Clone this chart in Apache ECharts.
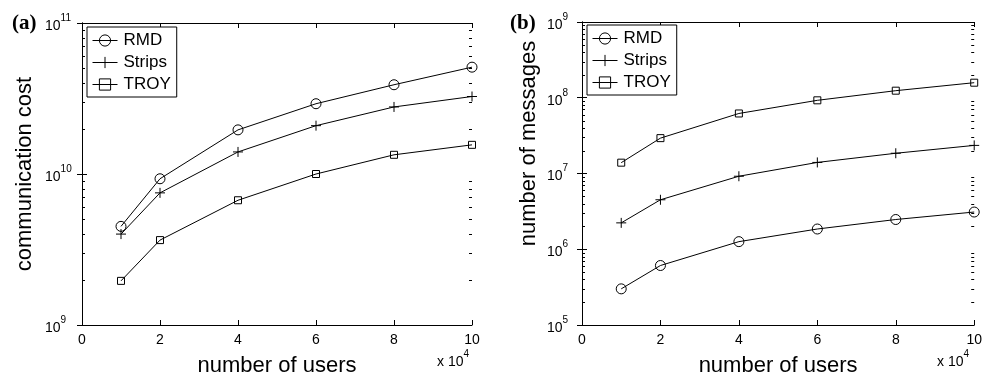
<!DOCTYPE html>
<html><head><meta charset="utf-8">
<script src="https://cdn.jsdelivr.net/npm/echarts@6/dist/echarts.min.js"></script>
<style>html,body{margin:0;padding:0;background:#fff}#c{width:985px;height:382px}</style>
</head><body><div id="c"></div>
<script>
// number of users (x 10^4)
const users = [1, 2, 4, 6, 8, 10];
// (a) communication cost
const costRMD    = [4.5e9, 9.3e9, 1.96e10, 2.92e10, 3.9e10, 5.1e10];
const costStrips = [4.0e9, 7.5e9, 1.40e10, 2.09e10, 2.78e10, 3.26e10];
const costTROY   = [1.96e9, 3.65e9, 6.7e9, 1.0e10, 1.34e10, 1.56e10];
// (b) number of messages
const msgRMD    = [3.0e5, 6.1e5, 1.26e6, 1.85e6, 2.47e6, 3.1e6];
const msgStrips = [2.23e6, 4.5e6, 9.2e6, 1.4e7, 1.85e7, 2.35e7];
const msgTROY   = [1.39e7, 2.93e7, 6.2e7, 9.25e7, 1.24e8, 1.58e8];
// ticks
const xTicks = [0, 2, 4, 6, 8, 10];
const costDecades = [9, 10, 11];
const msgDecades = [5, 6, 7, 8, 9];
const seriesNames = ['RMD', 'Strips', 'TROY'];

const FF = '"Liberation Sans", Arial, Helvetica, sans-serif';
const PLUS = 'path://M0,5L10,5M5,0L5,10';
const symbols = ['circle', PLUS, 'rect'];
const symSizes = [10, 10, 7];

function minorVals(decs) {
  const out = [];
  for (let i = 0; i < decs.length - 1; i++)
    for (let m = 2; m <= 9; m++) out.push(m * Math.pow(10, decs[i]));
  return out;
}
const supRich = {
  b: {fontSize: 14, fontFamily: FF, color: '#000', lineHeight: 20, verticalAlign: 'bottom'},
  s: {fontSize: 10, fontFamily: FF, color: '#000', lineHeight: 12, verticalAlign: 'top'}
};
function xAx(grid, pos, show) {
  return {
    type: 'value', gridIndex: grid, position: pos,
    min: xTicks[0], max: xTicks[xTicks.length - 1], interval: xTicks[1] - xTicks[0],
    axisLine: {show: true, onZero: false, lineStyle: {color: '#000', width: 1}},
    axisTick: {show: true, inside: true, length: 5, lineStyle: {color: '#000'}},
    axisLabel: {show: show, color: '#000', fontSize: 14, fontFamily: FF, margin: 8},
    splitLine: {show: false},
    name: show ? 'number of users' : '', nameLocation: 'middle', nameGap: 30,
    nameTextStyle: {fontSize: 22, color: '#000', fontFamily: FF}
  };
}
function yAx(grid, pos, show, decs, title, gap, margin, namePad) {
  return {
    type: 'log', logBase: 10, gridIndex: grid, position: pos,
    min: Math.pow(10, decs[0]), max: Math.pow(10, decs[decs.length - 1]),
    axisLine: {show: true, lineStyle: {color: '#000', width: 1}},
    axisTick: {show: true, inside: true, length: 5, lineStyle: {color: '#000'}},
    axisLabel: {
      show: show, color: '#000', margin: margin, align: 'left',
      formatter: v => '{b|10}{s|' + Math.round(Math.log10(v)) + '}',
      rich: supRich
    },
    splitLine: {show: false},
    name: show ? title : '', nameLocation: 'middle', nameGap: gap,
    nameTextStyle: {fontSize: 22, color: '#000', fontFamily: FF, padding: namePad || 0}
  };
}
function lineSeries(name, i, xi, yi, vals) {
  return {
    name: name, type: 'line', xAxisIndex: xi, yAxisIndex: yi,
    data: users.map((u, k) => [u, vals[k]]),
    symbol: symbols[i], symbolSize: symSizes[i], showAllSymbol: true,
    lineStyle: {color: '#000', width: 1},
    itemStyle: {color: 'rgba(0,0,0,0)', borderColor: '#000', borderWidth: 1},
    emphasis: {disabled: true}, z: 3
  };
}
// minor log ticks on the left and right frame edges, positioned through the axes
function minorSeries(xi, yi, decs) {
  const x0 = xTicks[0], x1 = xTicks[xTicks.length - 1];
  return {
    type: 'custom', xAxisIndex: xi, yAxisIndex: yi, silent: true, clip: false, z: 6,
    encode: {x: -1, y: 0},
    data: minorVals(decs).map(v => [v]),
    renderItem: function (params, api) {
      const v = api.value(0);
      const pL = api.coord([x0, v]);
      const pR = api.coord([x1, v]);
      const y = Math.round(pL[1]) + 0.5;
      const st = {stroke: '#000', lineWidth: 1};
      return {
        type: 'group', children: [
          {type: 'line', shape: {x1: pL[0], y1: y, x2: pL[0] + 3, y2: y}, style: st},
          {type: 'line', shape: {x1: pR[0] - 3, y1: y, x2: pR[0], y2: y}, style: st}
        ]
      };
    }
  };
}
function legendAt(left, top) {
  return {
    orient: 'vertical', left: left, top: top, data: seriesNames,
    backgroundColor: '#fff', borderColor: '#000', borderWidth: 1, borderRadius: 0,
    padding: [5, 6, 4, 5], itemGap: 5, itemWidth: 25, itemHeight: 14,
    lineStyle: {width: 1, color: '#000'},
    itemStyle: {borderWidth: 1, borderColor: '#000', color: 'rgba(0,0,0,0)'},
    textStyle: {fontSize: 17, fontFamily: FF, color: '#000', padding: [0, 0, 0, 1]},
    selectedMode: false
  };
}
const chart = echarts.init(document.getElementById('c'), null, {renderer: 'canvas'});
chart.setOption({
  animation: false,
  backgroundColor: '#fff',
  grid: [
    {left: 82, top: 23, width: 390, height: 307},
    {left: 582, top: 22, width: 393, height: 309}
  ],
  xAxis: [xAx(0, 'bottom', true), xAx(0, 'top', false), xAx(1, 'bottom', true), xAx(1, 'top', false)],
  yAxis: [
    yAx(0, 'left', true, costDecades, 'communication cost', 46, 37),
    yAx(0, 'right', false, costDecades, '', 0, 8),
    yAx(1, 'left', true, msgDecades, 'number of messages', 42, 35, [0, 0, 0, 60]),
    yAx(1, 'right', false, msgDecades, '', 0, 8)
  ],
  legend: [legendAt(87, 27), legendAt(587, 25)],
  series: [
    lineSeries('RMD', 0, 0, 0, costRMD),
    lineSeries('Strips', 1, 0, 0, costStrips),
    lineSeries('TROY', 2, 0, 0, costTROY),
    lineSeries('RMD', 0, 2, 2, msgRMD),
    lineSeries('Strips', 1, 2, 2, msgStrips),
    lineSeries('TROY', 2, 2, 2, msgTROY),
    minorSeries(0, 0, costDecades),
    minorSeries(2, 2, msgDecades)
  ],
  graphic: [
    {type: 'text', left: 12, top: 13, style: {text: '(a)', font: 'bold 21px "Liberation Serif", "Times New Roman", serif', fill: '#000'}},
    {type: 'text', left: 510, top: 13, style: {text: '(b)', font: 'bold 21px "Liberation Serif", "Times New Roman", serif', fill: '#000'}},
    {type: 'text', left: 437, top: 349, style: {text: '{b|x 10}{s|4}', rich: supRich}},
    {type: 'text', left: 937, top: 349, style: {text: '{b|x 10}{s|4}', rich: supRich}}
  ]
});
</script></body></html>
